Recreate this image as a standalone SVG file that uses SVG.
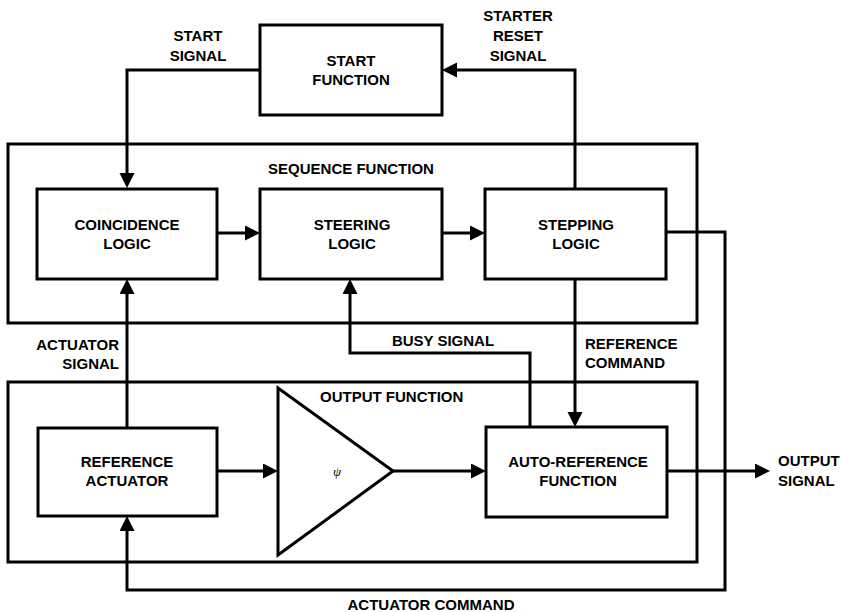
<svg xmlns="http://www.w3.org/2000/svg" width="841" height="612" viewBox="0 0 841 612">
  <style>
    .box { fill: none; stroke: #000; stroke-width: 3; }
    .wire { fill: none; stroke: #000; stroke-width: 3; marker-end: url(#arrow); }
    .plain { fill: none; stroke: #000; stroke-width: 3; }
    text { font-family: "Liberation Sans", Arial, sans-serif; font-weight: bold; font-size: 15px; fill: #000; }
    .c { text-anchor: middle; }
    .r { text-anchor: end; }
  </style>
  <defs>
    <marker id="arrow" markerUnits="userSpaceOnUse" markerWidth="16" markerHeight="16" refX="7" refY="7.5" orient="auto">
      <path d="M0,0 L15,7.5 L0,15 Z" fill="#000"/>
    </marker>
  </defs>

  <rect width="841" height="612" fill="#fff"/>

  <!-- enclosing function groups -->
  <g id="sequence-function">
    <rect class="box" x="8" y="144" width="689" height="179"/>
    <text class="c" x="351" y="174">SEQUENCE FUNCTION</text>
  </g>
  <g id="output-function">
    <rect class="box" x="8" y="382" width="689" height="180"/>
    <text x="320" y="402">OUTPUT FUNCTION</text>
  </g>

  <!-- blocks -->
  <g id="start-function">
    <rect class="box" x="260" y="25" width="182" height="90"/>
    <text class="c" x="351" y="66">START</text>
    <text class="c" x="351" y="85">FUNCTION</text>
  </g>
  <g id="coincidence-logic">
    <rect class="box" x="37" y="189" width="180" height="90"/>
    <text class="c" x="127" y="230">COINCIDENCE</text>
    <text class="c" x="127" y="249">LOGIC</text>
  </g>
  <g id="steering-logic">
    <rect class="box" x="260" y="189" width="182" height="90"/>
    <text class="c" x="352" y="230">STEERING</text>
    <text class="c" x="352" y="249">LOGIC</text>
  </g>
  <g id="stepping-logic">
    <rect class="box" x="485" y="189" width="181" height="90"/>
    <text class="c" x="576" y="230">STEPPING</text>
    <text class="c" x="576" y="249">LOGIC</text>
  </g>
  <g id="reference-actuator">
    <rect class="box" x="38" y="428" width="179" height="88"/>
    <text class="c" x="127" y="467">REFERENCE</text>
    <text class="c" x="127" y="486">ACTUATOR</text>
  </g>
  <g id="amplifier">
    <polygon class="box" points="278,388 393,471 278,555"/>
    <text x="333" y="476" style="font-family:'Liberation Serif',serif;font-style:italic;font-weight:normal;font-size:13px">ψ</text>
  </g>
  <g id="auto-reference-function">
    <rect class="box" x="486" y="427" width="181" height="90"/>
    <text class="c" x="578" y="467">AUTO-REFERENCE</text>
    <text class="c" x="578" y="486">FUNCTION</text>
  </g>

  <!-- signal paths -->
  <g id="connectors">
    <path class="wire" d="M260,70 H127 V180"/>
    <path class="wire" d="M217,233 H252"/>
    <path class="wire" d="M442,233 H477"/>
    <path class="wire" d="M575,189 V70 H450"/>
    <path class="wire" d="M127,428 V287"/>
    <path class="wire" d="M530,427 V353 H350 V287"/>
    <path class="wire" d="M575,279 V419"/>
    <path class="wire" d="M217,471 H270"/>
    <path class="wire" d="M393,471 H478"/>
    <path class="wire" d="M667,471 H762"/>
    <path class="wire" d="M666,232 H725 V590 H127 V524"/>
  </g>

  <!-- signal labels -->
  <g id="labels">
    <text class="c" x="198" y="41">START</text>
    <text class="c" x="198" y="61">SIGNAL</text>
    <text class="c" x="518" y="21">STARTER</text>
    <text class="c" x="518" y="41">RESET</text>
    <text class="c" x="518" y="61">SIGNAL</text>
    <text class="r" x="119" y="350">ACTUATOR</text>
    <text class="r" x="119" y="369">SIGNAL</text>
    <text class="c" x="443" y="346">BUSY SIGNAL</text>
    <text x="585" y="349">REFERENCE</text>
    <text x="585" y="368">COMMAND</text>
    <text x="778" y="466">OUTPUT</text>
    <text x="778" y="486">SIGNAL</text>
    <text class="c" x="431" y="610">ACTUATOR COMMAND</text>
  </g>
</svg>
